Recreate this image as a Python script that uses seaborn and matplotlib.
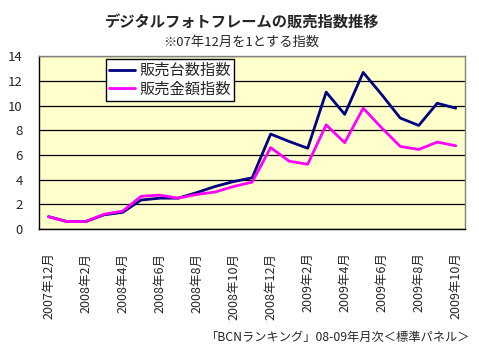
import matplotlib
matplotlib.use("Agg")
import matplotlib.pyplot as plt
import seaborn as sns
import pandas as pd
import numpy as np

sns.set_style("white")
plt.rcParams['font.family'] = ['Noto Sans CJK JP', 'DejaVu Sans']

months = ["2007年12月", "2008年1月", "2008年2月", "2008年3月", "2008年4月", "2008年5月",
          "2008年6月", "2008年7月", "2008年8月", "2008年9月", "2008年10月", "2008年11月",
          "2008年12月", "2009年1月", "2009年2月", "2009年3月", "2009年4月", "2009年5月",
          "2009年6月", "2009年7月", "2009年8月", "2009年9月", "2009年10月"]
units_index = [1.0, 0.6, 0.6, 1.15, 1.35, 2.35, 2.5, 2.5, 2.95, 3.45, 3.85, 4.15,
               7.7, 7.1, 6.55, 11.1, 9.3, 12.7, 10.9, 9.0, 8.4, 10.2, 9.8]
amount_index = [1.0, 0.6, 0.6, 1.2, 1.45, 2.65, 2.75, 2.5, 2.8, 3.0, 3.45, 3.8,
                6.6, 5.5, 5.25, 8.45, 7.0, 9.8, 8.2, 6.7, 6.45, 7.05, 6.75]
series_names = ["販売台数指数", "販売金額指数"]
series_colors = ["#000080", "#FF00FF"]

title = "デジタルフォトフレームの販売指数推移"
subtitle = "※07年12月を1とする指数"
footer = "「BCNランキング」08-09年月次＜標準パネル＞"

df = pd.DataFrame({
    "idx": list(range(len(months))) * 2,
    "value": units_index + amount_index,
    "series": [series_names[0]] * len(months) + [series_names[1]] * len(months),
})

fig = plt.figure(figsize=(4.79, 3.47), dpi=100)
ax = fig.add_axes([39.3 / 479, 1 - 229 / 347, (465 - 39.3) / 479, (229 - 56.4) / 347])
ax.set_facecolor("#FFFFCC")

sns.lineplot(data=df, x="idx", y="value", hue="series", hue_order=series_names,
             palette=series_colors, linewidth=2.0, ax=ax, legend=False)

ax.set_xlim(-0.5, len(months) - 0.5)
ax.set_ylim(0, 14)
ax.set_yticks(np.arange(0, 15, 2))
ax.set_yticklabels([str(v) for v in range(0, 15, 2)], fontsize=9.5)
ax.tick_params(axis="y", length=0, pad=12)

ax.set_xticks(list(range(0, len(months), 2)))
ax.set_xticklabels(months[::2], rotation=90, fontsize=9, va="top", ha="center")
ax.set_xticks([i + 1.5 for i in range(0, len(months) - 2, 2)], minor=True)
ax.tick_params(axis="x", which="major", length=0, pad=17)
ax.tick_params(axis="x", which="minor", length=5, width=1, direction="in", color="black")

ax.set_xlabel("")
ax.set_ylabel("")
ax.yaxis.grid(True, color="black", linewidth=0.9)
ax.xaxis.grid(False)
ax.set_axisbelow(True)

for s in ["left", "bottom"]:
    ax.spines[s].set_color("black")
    ax.spines[s].set_linewidth(1.0)
for s in ["top", "right"]:
    ax.spines[s].set_color("#808080")
    ax.spines[s].set_linewidth(1.0)

handles = [plt.Line2D([], [], color=c, linewidth=2.0) for c in series_colors]
leg = fig.legend(handles, series_names, loc="upper left",
                 bbox_to_anchor=(106 / 479, 1 - 59 / 347), bbox_transform=fig.transFigure,
                 fontsize=11, frameon=True, fancybox=False, framealpha=1,
                 edgecolor="black", facecolor="white", handlelength=1.7,
                 handletextpad=0.3, borderpad=0.2, labelspacing=0.1, borderaxespad=0)
leg.get_frame().set_linewidth(1.0)

fig.text(242 / 479, 1 - 23 / 347, title, ha="center", va="center", fontsize=11, fontweight="bold")
fig.text(241 / 479, 1 - 42 / 347, subtitle, ha="center", va="center", fontsize=9.5)
fig.text(470 / 479, 1 - 337 / 347, footer, ha="right", va="center", fontsize=8.8)

fig.savefig("out.png", dpi=100)
